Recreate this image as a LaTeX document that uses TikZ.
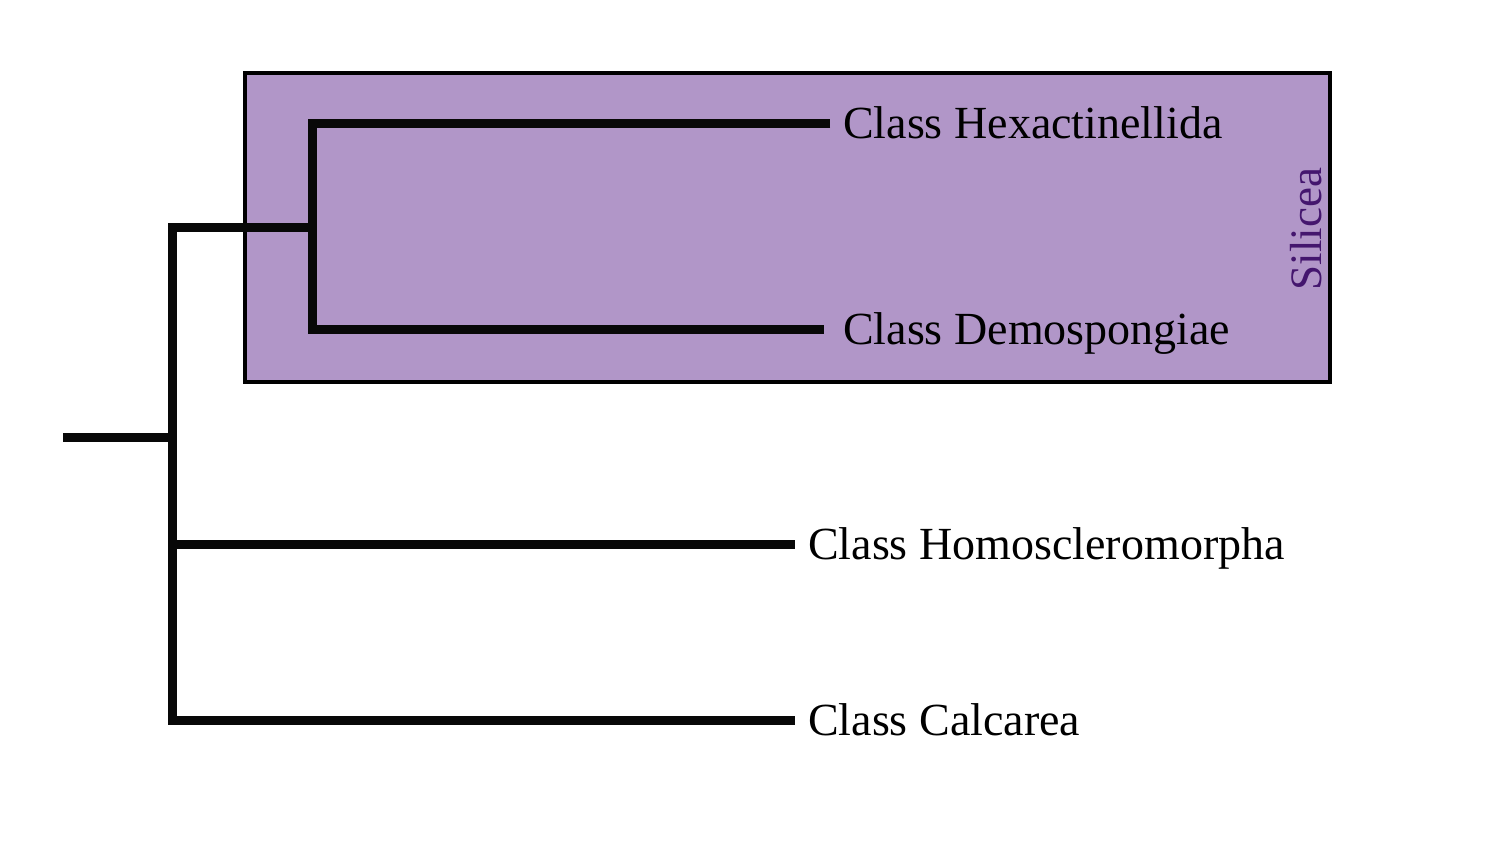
\documentclass[tikz,border=0pt]{standalone}
\usepackage{fontspec}
\setmainfont{Liberation Serif}
\definecolor{boxfill}{RGB}{177,150,200}
\definecolor{siltext}{RGB}{68,22,110}
\definecolor{treeline}{RGB}{8,8,8}
\begin{document}
\begin{tikzpicture}[x=1pt,y=-1pt,
  branch/.style={draw=treeline,line width=9pt,line cap=butt,line join=miter},
  lab/.style={anchor=west,inner ysep=0pt,inner xsep=13pt,text height=30pt,text depth=0pt,
    font=\fontsize{46}{55}\selectfont,text=black},
  cladebox/.style={draw=black,fill=boxfill,line width=3.5pt,rectangle,inner sep=0pt,
    minimum width=1085pt,minimum height=309pt}]
\useasboundingbox (0,0) rectangle (1500,844);
\node[cladebox] (silicea) at (787.5,227.5) {};
\node[rotate=90,text=siltext,font=\fontsize{45}{54}\selectfont,inner sep=0pt] (silab) at (1306,229) {Silicea};
% labels
\node[lab] (hex) at (830,123) {Class Hexactinellida};
\node[lab,inner xsep=19pt] (demo) at (824,329) {Class Demospongiae};
\node[lab] (homo) at (795,544) {Class Homoscleromorpha};
\node[lab] (cal) at (795,720) {Class Calcarea};
% junctions
\coordinate (s1) at (312,227);
\coordinate (j0) at (172,227);
\coordinate (jr) at (172,437);
\coordinate (jh) at (172,544);
\coordinate (root) at (63,437);
% branches
\draw[branch] (hex.west) -| (s1) |- (demo.west);
\draw[branch] (s1) -- (j0) |- (cal.west);
\draw[branch] (jh) -- (homo.west);
\draw[branch] (root) -- (jr);
\end{tikzpicture}
\end{document}
